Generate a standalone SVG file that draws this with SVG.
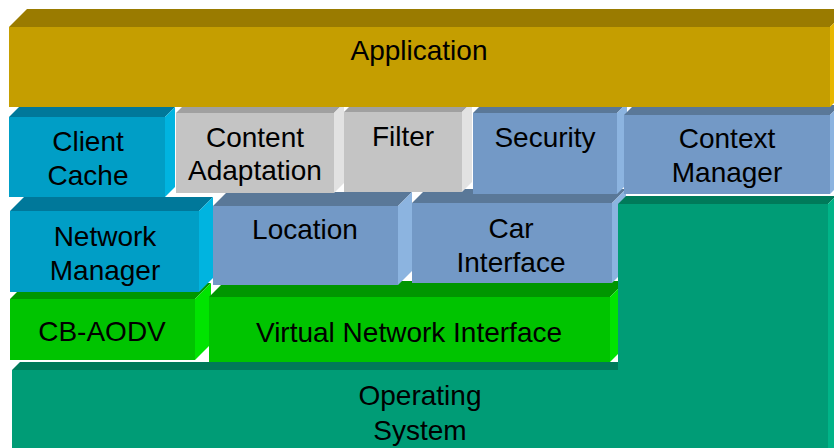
<svg xmlns="http://www.w3.org/2000/svg" width="834" height="448" viewBox="0 0 834 448">
<style>
text{font-family:"Liberation Sans",Arial,sans-serif;font-size:28px;fill:#000;text-anchor:middle}
.ap-f{fill:#c59e00}.ap-t{fill:#9a7b00}.ap-s{fill:#e8b800}
.cy-f{fill:#009ec6}.cy-t{fill:#00789a}.cy-s{fill:#00b4e0}
.gr-f{fill:#c4c4c4}.gr-t{fill:#a0a0a0}.gr-s{fill:#e2e2e2}
.bl-f{fill:#7399c6}.bl-t{fill:#5a7898}.bl-s{fill:#8cb4e0}
.gn-f{fill:#00c400}.gn-t{fill:#009600}.gn-s{fill:#00e400}
.os-f{fill:#009c76}.os-t{fill:#007a5a}.os-s{fill:#00b488}
</style>
<rect width="834" height="448" fill="#ffffff"/>

<g id="cb-aodv">
<polygon class="gn-t" points="10,299 26,283 211,283 195,299"/>
<polygon class="gn-s" points="195,299 211,283 211,344 195,360"/>
<rect class="gn-f" x="10" y="299" width="185" height="61"/>
<text x="102" y="341">CB-AODV</text>
</g>
<g id="virtual-network-interface">
<polygon class="gn-t" points="209,297 225,281 626,281 610,297"/>
<polygon class="gn-s" points="610,297 626,281 626,346 610,362"/>
<rect class="gn-f" x="209" y="297" width="401" height="65"/>
<text x="409" y="342">Virtual Network Interface</text>
</g>

<g id="network-manager">
<polygon class="cy-t" points="10,211 24,197 213,197 199,211"/>
<polygon class="cy-s" points="199,211 213,197 213,278 199,292"/>
<rect class="cy-f" x="10" y="211" width="189" height="81"/>
<text x="105" y="246">Network</text>
<text x="105" y="280">Manager</text>
</g>
<g id="location">
<polygon class="bl-t" points="213,206 227,192 412,192 398,206"/>
<polygon class="bl-s" points="398,206 412,192 412,271 398,285"/>
<rect class="bl-f" x="213" y="206" width="185" height="79"/>
<text x="305" y="239">Location</text>
</g>
<g id="car-interface">
<polygon class="bl-t" points="412,203 426,189 626,189 612,203"/>
<polygon class="bl-s" points="612,203 626,189 626,269 612,283"/>
<rect class="bl-f" x="412" y="203" width="200" height="80"/>
<text x="511" y="238">Car</text>
<text x="511" y="272">Interface</text>
</g>

<g id="operating-system">
<polygon class="os-t" points="12,370 20,362 618,362 618,370"/>
<polygon class="os-t" points="618,204 626,196 836,196 828,204"/>
<polygon class="os-s" points="828,204 836,196 836,448 828,448"/>
<polygon class="os-f" points="12,370 618,370 618,204 828,204 828,448 12,448"/>
<text x="420" y="405">Operating</text>
<text x="420" y="440">System</text>
</g>

<g id="client-cache">
<polygon class="cy-t" points="9,117 19,107 175,107 165,117"/>
<polygon class="cy-s" points="165,117 175,107 175,187 165,197"/>
<rect class="cy-f" x="9" y="117" width="156" height="80"/>
<text x="88" y="151">Client</text>
<text x="88" y="185">Cache</text>
</g>
<g id="content-adaptation">
<polygon class="gr-t" points="176,113 186,103 344,103 334,113"/>
<polygon class="gr-s" points="334,113 344,103 344,183 334,193"/>
<rect class="gr-f" x="176" y="113" width="158" height="80"/>
<text x="255" y="147">Content</text>
<text x="255" y="180">Adaptation</text>
</g>
<g id="filter">
<polygon class="gr-t" points="344,112 354,102 472,102 462,112"/>
<polygon class="gr-s" points="462,112 472,102 472,182 462,192"/>
<rect class="gr-f" x="344" y="112" width="118" height="80"/>
<text x="403" y="146">Filter</text>
</g>
<g id="security">
<polygon class="bl-t" points="473,113 483,103 627,103 617,113"/>
<polygon class="bl-s" points="617,113 627,103 627,184 617,194"/>
<rect class="bl-f" x="473" y="113" width="144" height="81"/>
<text x="545" y="147">Security</text>
</g>
<g id="context-manager">
<polygon class="bl-t" points="624,115 634,105 840,105 830,115"/>
<polygon class="bl-s" points="830,115 840,105 840,184 830,194"/>
<rect class="bl-f" x="624" y="115" width="206" height="79"/>
<text x="727" y="148">Context</text>
<text x="727" y="182">Manager</text>
</g>

<g id="application">
<polygon class="ap-t" points="9,27 27,9 848,9 830,27"/>
<polygon class="ap-s" points="830,27 848,9 848,89 830,107"/>
<rect class="ap-f" x="9" y="27" width="821" height="80"/>
<text x="419" y="60">Application</text>
</g>
</svg>
